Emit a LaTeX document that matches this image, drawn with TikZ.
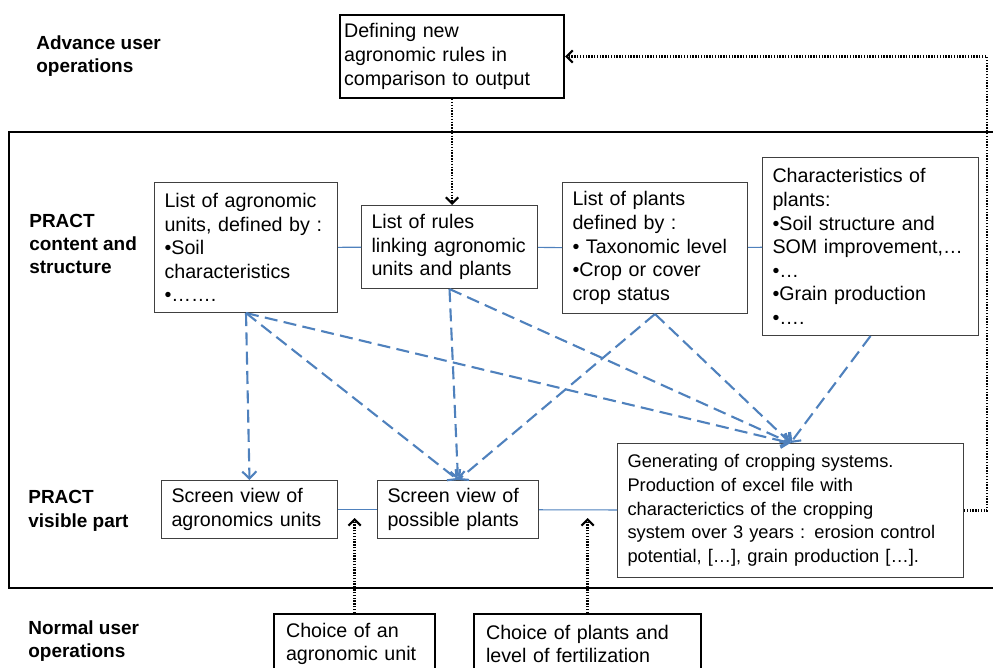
\documentclass[tikz,border=0pt]{standalone}
\usepackage{fontspec}
\setmainfont{Liberation Sans}
\usetikzlibrary{arrows.meta}

\definecolor{linkblue}{HTML}{4F81BD}
\definecolor{boxgray}{HTML}{404040}

\tikzset{
	box/.style={draw=boxgray, line width=0.6pt, anchor=north west, align=left,
		inner xsep=0.2cm, inner ysep=0pt, font=\fontsize{11.2}{13.45}\selectfont},
	userbox/.style={box, draw=black, line width=1.2pt},
	lab/.style={anchor=west, align=left, inner sep=0pt,
		font=\fontsize{10.8}{13.3}\selectfont\bfseries},
	link/.style={linkblue, line width=0.6pt},
	flow/.style={linkblue, line width=1.2pt, dash pattern=on 7.4pt off 3.6pt,
		-{Straight Barb[length=4pt,width=8pt]}},
	user/.style={black, line width=1.2pt, dash pattern=on 0.8pt off 0.8pt,
		-{Straight Barb[length=3.5pt,width=7pt]}}
}

\begin{document}
\begin{tikzpicture}[x=0.02cm, y=-0.02cm]
			\useasboundingbox (0,0) rectangle (993,668);
			\draw[line width=1.4pt] (9,132) rectangle (1010,588);

			\node[lab] (advlab) at (36,56) {Advance user\\operations};
			\node[lab] (contlab) at (29,244) {PRACT\\content and\\structure};
			\node[lab] (vislab) at (28,511) {PRACT\\visible part};
			\node[lab] (normlab) at (28,641) {Normal user\\operations};

			\node[userbox, inner xsep=0.08cm, text width=4.32cm, minimum height=1.66cm] (newrules) at (339,14)
				{Defining new\\agronomic rules in\\comparison to output};

			\node[box, text width=3.26cm, minimum height=2.6cm] (units) at (154,182)
				{List of agronomic\\units, defined by :\\•Soil\\characteristics\\•…….};
			\node[box, text width=3.12cm, minimum height=1.66cm] (rules) at (361,205)
				{List of rules\\linking agronomic\\units and plants};
			\node[box, text width=3.3cm, minimum height=2.62cm] (plants) at (562,182)
				{List of plants\\defined by :\\• Taxonomic level\\•Crop or cover\\crop status};
			\node[box, text width=3.92cm, minimum height=3.56cm] (traits) at (762,157)
				{Characteristics of\\plants:\\•Soil structure and\\SOM improvement,…\\•…\\•Grain production\\•….};

			\node[box, text width=3.12cm, minimum height=1.16cm] (viewunits) at (161,480)
				{Screen view of\\agronomics units};
			\node[box, text width=2.82cm, minimum height=1.16cm] (viewplants) at (377,480)
				{Screen view of\\possible plants};
			\node[box, inner xsep=0.2cm, text width=6.52cm, minimum height=2.68cm,
				font=\fontsize{10.4}{13.45}\selectfont] (output) at (617,443)
				{Generating of cropping systems.\\Production of excel file with\\characterictics of the cropping\\system over 3 years : erosion control\\potential, […], grain production […].};

			\node[userbox, inner xsep=0.24cm, text width=2.74cm, minimum height=1.2cm] (chooseunit) at (273,613)
				{Choice of an\\agronomic unit};
			\node[userbox, inner xsep=0.24cm, text width=4.06cm, minimum height=1.2cm] (chooseplants) at (473,613)
				{Choice of plants and\\level of fertilization};

			% plain links
			\draw[link] (units) -- (rules);
			\draw[link] (rules) -- (plants);
			\draw[link] (plants) -- (traits);
			\draw[link] (viewunits) -- (viewplants);
			\draw[link] (viewplants) -- (output);

			% dashed flows
			\draw[flow] (units.south) -- (viewunits.north);
			\draw[flow] (units.south) -- (viewplants.north);
			\draw[flow] (units.south) -- (output.north);
			\draw[flow] (rules.south) -- (viewplants.north);
			\draw[flow] (rules.south) -- (output.north);
			\draw[flow] (plants.south) -- (viewplants.north);
			\draw[flow] (plants.south) -- (output.north);
			\draw[flow] (traits.south) -- (output.north);

			% user operations
			\draw[user] (newrules.south) -- (newrules.south |- rules.north);
			\draw[user] (output.east) -- ++(23,0) |- (newrules.east);
			\draw[user] (chooseunit.north) -- ++(0,-95);
			\draw[user] (chooseplants.north) -- ++(0,-95);
		\end{tikzpicture}
\end{document}
